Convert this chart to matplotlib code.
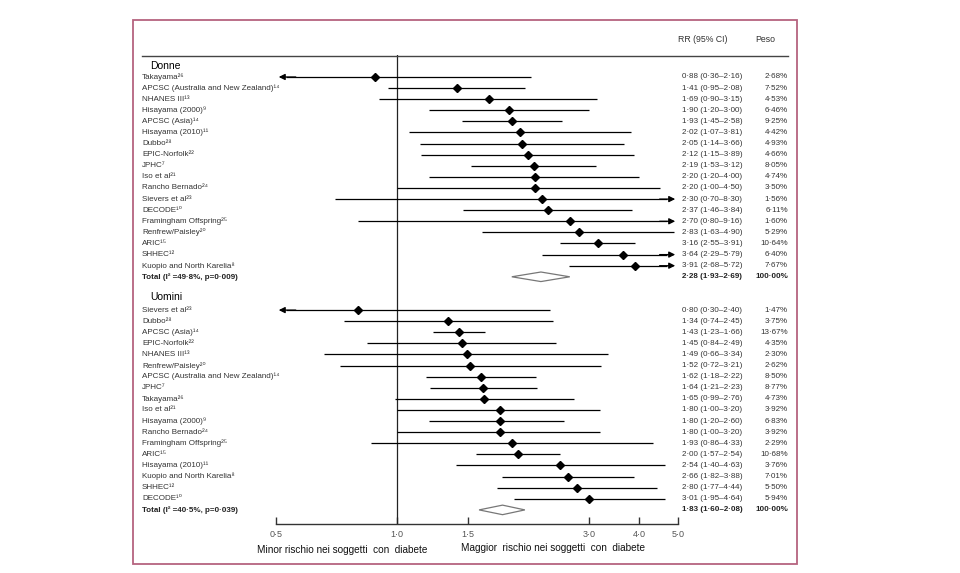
import numpy as np
import matplotlib
matplotlib.use("Agg")
import matplotlib.pyplot as plt
import matplotlib.transforms as mtransforms
from matplotlib.patches import Rectangle, Polygon
from matplotlib.lines import Line2D

plt.rcParams['font.family'] = ['Liberation Sans', 'DejaVu Sans']

# Donne
women_names = ["Takayama", "APCSC (Australia and New Zealand)", "NHANES III", "Hisayama (2000)",
               "APCSC (Asia)", "Hisayama (2010)", "Dubbo", "EPIC-Norfolk", "JPHC", "Iso et al",
               "Rancho Bernado", "Sievers et al", "DECODE", "Framingham Offspring",
               "Renfrew/Paisley", "ARIC", "SHHEC", "Kuopio and North Karelia"]
women_refs = [26, 14, 13, 9, 14, 11, 28, 22, 7, 21, 24, 23, 10, 25, 20, 15, 12, 8]
women_rr = [0.88, 1.41, 1.69, 1.90, 1.93, 2.02, 2.05, 2.12, 2.19, 2.20, 2.20, 2.30, 2.37, 2.70,
            2.83, 3.16, 3.64, 3.91]
women_lo = [0.36, 0.95, 0.90, 1.20, 1.45, 1.07, 1.14, 1.15, 1.53, 1.20, 1.00, 0.70, 1.46, 0.80,
            1.63, 2.55, 2.29, 2.68]
women_hi = [2.16, 2.08, 3.15, 3.00, 2.58, 3.81, 3.66, 3.89, 3.12, 4.00, 4.50, 8.30, 3.84, 9.16,
            4.90, 3.91, 5.79, 5.72]
women_w = [2.68, 7.52, 4.53, 6.46, 9.25, 4.42, 4.93, 4.66, 8.05, 4.74, 3.50, 1.56, 6.11, 1.60,
           5.29, 10.64, 6.40, 7.67]
women_total = (2.28, 1.93, 2.69)
women_stats = "Total (I² =49·8%, p=0·009)"

# Uomini
men_names = ["Sievers et al", "Dubbo", "APCSC (Asia)", "EPIC-Norfolk", "NHANES III",
             "Renfrew/Paisley", "APCSC (Australia and New Zealand)", "JPHC", "Takayama",
             "Iso et al", "Hisayama (2000)", "Rancho Bernado", "Framingham Offspring", "ARIC",
             "Hisayama (2010)", "Kuopio and North Karelia", "SHHEC", "DECODE"]
men_refs = [23, 28, 14, 22, 13, 20, 14, 7, 26, 21, 9, 24, 25, 15, 11, 8, 12, 10]
men_rr = [0.80, 1.34, 1.43, 1.45, 1.49, 1.52, 1.62, 1.64, 1.65, 1.80, 1.80, 1.80, 1.93, 2.00,
          2.54, 2.66, 2.80, 3.01]
men_lo = [0.30, 0.74, 1.23, 0.84, 0.66, 0.72, 1.18, 1.21, 0.99, 1.00, 1.20, 1.00, 0.86, 1.57,
          1.40, 1.82, 1.77, 1.95]
men_hi = [2.40, 2.45, 1.66, 2.49, 3.34, 3.21, 2.22, 2.23, 2.76, 3.20, 2.60, 3.20, 4.33, 2.54,
          4.63, 3.88, 4.44, 4.64]
men_w = [1.47, 3.75, 13.67, 4.35, 2.30, 2.62, 8.50, 8.77, 4.73, 3.92, 6.83, 3.92, 2.29, 10.68,
         3.76, 7.01, 5.50, 5.94]
men_total = (1.83, 1.60, 2.08)
men_stats = "Total (I² =40·5%, p=0·039)"

ticks = [0.5, 1.0, 1.5, 3.0, 4.0, 5.0]
tick_labels = ["0·5", "1·0", "1·5", "3·0", "4·0", "5·0"]

XMIN, XMAX = 0.5, 5.0
W, H = 960, 573
FS = 5.8
SUP = str.maketrans("0123456789", "⁰¹²³⁴⁵⁶⁷⁸⁹")


def fx(px):
    return px / W


def fy(py):
    return (H - py) / H


def num(v):
    return f"{v:.2f}".replace(".", "·")


fig = plt.figure(figsize=(9.6, 5.73), dpi=100)
fig.patch.set_facecolor("white")

ax = fig.add_axes([fx(276), fy(524), fx(678) - fx(276), fy(55) - fy(524)])
ax.set_xscale("log")
ax.set_xlim(XMIN, XMAX)
ax.set_ylim(40.27, -1.98)
ax.patch.set_alpha(0)
for s in ["top", "right", "left"]:
    ax.spines[s].set_visible(False)
ax.spines["bottom"].set_linewidth(1.0)
ax.spines["bottom"].set_color("#333333")
ax.set_yticks([])
ax.set_xticks(ticks)
ax.set_xticklabels(tick_labels)
ax.xaxis.set_minor_locator(matplotlib.ticker.NullLocator())
ax.tick_params(axis="x", direction="in", length=5, width=1.0, color="#333333",
               labelsize=6.5, labelcolor="#555555", pad=4)
ax.axvline(1.0, color="#222222", lw=0.9)

tr = mtransforms.blended_transform_factory(fig.transFigure, ax.transData)
txt_col = "#333333"


def draw_group(y0, names, refs, rr, lo, hi, w, total, stats):
    for i in range(len(names)):
        y = y0 + i
        a, b = max(lo[i], XMIN), min(hi[i], XMAX)
        if lo[i] < XMIN:
            a = 0.53
            ax.annotate("", xy=(0.508, y), xytext=(0.56, y),
                        arrowprops=dict(arrowstyle="-|>", color="black", lw=0.9,
                                        mutation_scale=9, shrinkA=0, shrinkB=0))
        if hi[i] > XMAX:
            b = 4.7
            ax.annotate("", xy=(4.92, y), xytext=(4.5, y),
                        arrowprops=dict(arrowstyle="-|>", color="black", lw=0.9,
                                        mutation_scale=9, shrinkA=0, shrinkB=0))
        ax.plot([a, b], [y, y], color="black", lw=0.9, solid_capstyle="butt")
        ax.plot(rr[i], y, marker="D", color="black", ms=4.5)
        fig.text(fx(142), y, names[i] + str(refs[i]).translate(SUP), transform=tr, fontsize=FS,
                 color=txt_col, va="center", ha="left")
        fig.text(fx(682), y, f"{num(rr[i])} ({num(lo[i])}–{num(hi[i])})", transform=tr,
                 fontsize=FS, color=txt_col, va="center", ha="left")
        fig.text(fx(788), y, f"{num(w[i])}%", transform=tr, fontsize=FS, color=txt_col,
                 va="center", ha="right")
    yt = y0 + len(names)
    est, tlo, thi = total
    h = 0.43
    ax.add_patch(Polygon([[tlo, yt], [est, yt - h], [thi, yt], [est, yt + h]], closed=True,
                         facecolor="white", edgecolor="#777777", lw=0.9))
    fig.text(fx(142), yt, stats, transform=tr, fontsize=FS, color="#222222",
             fontweight="bold", va="center", ha="left")
    fig.text(fx(682), yt, f"{num(est)} ({num(tlo)}–{num(thi)})", transform=tr, fontsize=FS,
             color="#222222", fontweight="bold", va="center", ha="left")
    fig.text(fx(788), yt, "100·00%", transform=tr, fontsize=FS, color="#222222",
             fontweight="bold", va="center", ha="right")


draw_group(0, women_names, women_refs, women_rr, women_lo, women_hi, women_w, women_total, women_stats)
draw_group(21, men_names, men_refs, men_rr, men_lo, men_hi, men_w, men_total, men_stats)

fig.text(fx(150), -0.95, "Donne", transform=tr, fontsize=7.5, color="black", va="center")
fig.text(fx(150), 19.85, "Uomini", transform=tr, fontsize=7.5, color="black", va="center")

# header
fig.text(fx(678), fy(39), "RR (95% CI)", fontsize=6.3, color="#333333", va="center")
fig.text(fx(755), fy(39), "Peso", fontsize=6.3, color="#333333", va="center")
fig.add_artist(Line2D([fx(142), fx(788)], [fy(55.5), fy(55.5)], color="#444444", lw=1.0))

# axis captions
fig.text(fx(257), fy(550), "Minor rischio nei soggetti  con  diabete", fontsize=7.2,
         color="#111111", va="center")
fig.text(fx(461), fy(548), "Maggior  rischio nei soggetti  con  diabete", fontsize=7.2,
         color="#111111", va="center")

# frame
fig.add_artist(Rectangle((fx(133), fy(564)), fx(797) - fx(133), fy(20) - fy(564),
                         transform=fig.transFigure, fill=False, edgecolor="#b5637f", lw=1.3))

fig.savefig("out.png", dpi=100)
